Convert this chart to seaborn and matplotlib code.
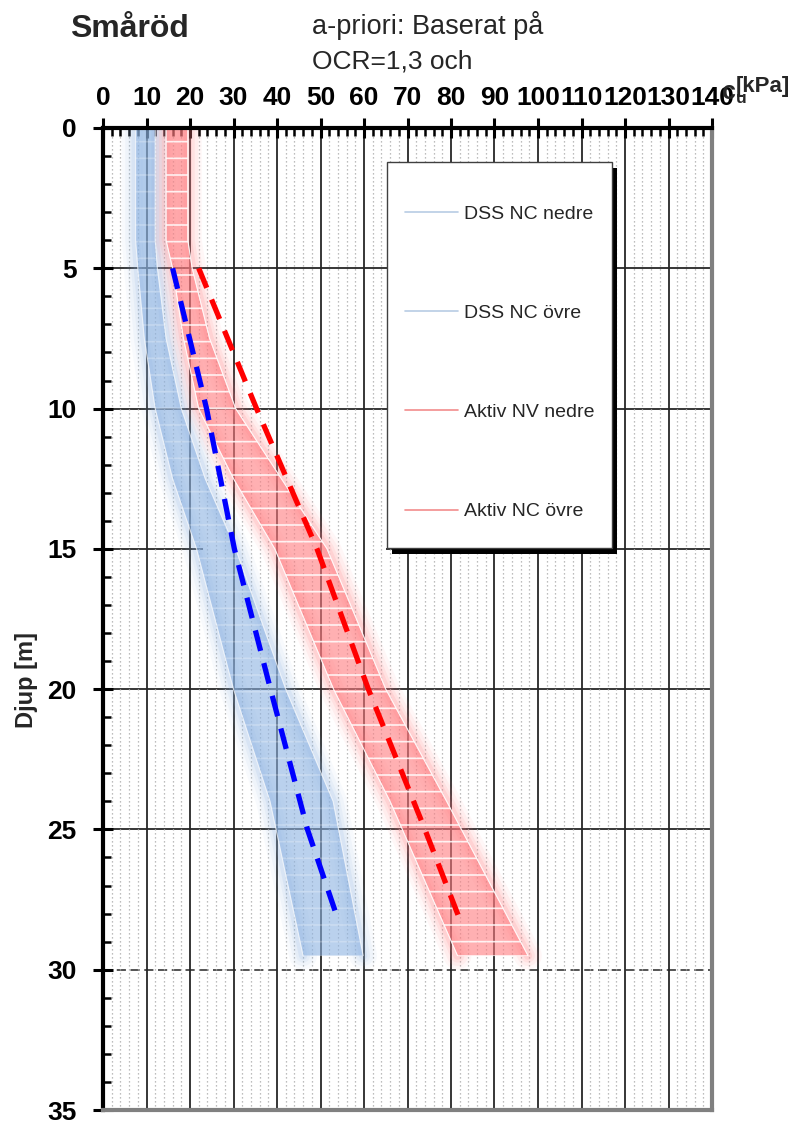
import numpy as np
import seaborn as sns
import matplotlib.pyplot as plt
from matplotlib.colors import to_rgb
from matplotlib.lines import Line2D
from matplotlib.patches import Rectangle

# bounds of the strength bands, cu [kPa] against depth [m]
depth_band = [0, 4, 5, 7.5, 10, 12.5, 15, 20, 24, 29.5]
dss_nedre = [7.5, 7.5, 8, 9.5, 12, 16, 21.5, 30, 38.4, 46]
dss_ovre = [12, 12, 12.5, 14.5, 18, 23.5, 30.5, 42, 52.9, 59.8]
aktiv_nedre = [14.5, 14.5, 16, 18.5, 22, 30, 39.5, 53, 66, 81.5]
aktiv_ovre = [19.5, 19.5, 20.5, 24.5, 30.5, 41, 51.5, 65, 79, 97.7]

# a-priori profiles (thick dashed)
depth_dss = [5, 10, 15, 20, 25, 28.2]
cu_dss = [16, 23.8, 30.2, 38.5, 47, 54]
depth_aktiv = [5, 10, 15, 20, 25, 28.4]
cu_aktiv = [22, 35.3, 49.2, 61, 74, 82.5]

legend_labels = ["DSS NC nedre", "DSS NC övre", "Aktiv NV nedre", "Aktiv NC övre"]
x_ticks = list(range(0, 141, 10))
y_ticks = list(range(0, 36, 5))

sns.set_style("white")
plt.rcParams['font.family'] = ['Liberation Sans', 'DejaVu Sans']
plt.rcParams['hatch.linewidth'] = 1.2
plt.rcParams['mathtext.fontset'] = 'custom'
plt.rcParams['mathtext.bf'] = 'Liberation Sans:bold'
plt.rcParams['mathtext.rm'] = 'Liberation Sans:bold'

blue = '#8db3e2'
red = '#ff7c80'

fig = plt.figure(figsize=(7.95, 11.22), dpi=100)
ax = fig.add_axes([103 / 795, 1 - 1110 / 1122, 609 / 795, 982 / 1122])

ax.set_xlim(0, 140)
ax.set_ylim(35, 0)

# grid
ax.set_xticks(x_ticks)
ax.set_xticks(np.arange(0, 141, 2), minor=True)
ax.set_yticks(y_ticks)
ax.set_yticks(np.arange(0, 36, 1), minor=True)
ax.grid(which='minor', axis='x', color='#a8a8a8', lw=0.9, ls=(0, (1, 2.2)), zorder=0)
ax.grid(which='major', axis='x', color='#262626', lw=1.3, zorder=0.5)
ax.grid(False, axis='y', which='both')
for yv in [5, 10, 20, 25]:
    ax.axhline(yv, color='#262626', lw=1.3, zorder=0.5)
ax.hlines(15, 0, 23, color='#262626', lw=1.3, zorder=0.5)
ax.hlines(15, 65, 140, color='#262626', lw=1.3, zorder=0.5)
ax.axhline(30, color='#262626', lw=1.1, ls=(0, (6, 3)), zorder=0.5)
ax.set_axisbelow(True)

# glowing bands
bands = [(dss_nedre, dss_ovre, blue, 0.25), (aktiv_nedre, aktiv_ovre, red, 0.85)]
for lo, hi, c, hatch_a in bands:
    for xs in (lo, hi):
        for w, a in [(20, 0.06), (15, 0.08), (10, 0.1), (6, 0.14)]:
            ax.plot(xs, depth_band, color=c, lw=w, alpha=a, solid_capstyle='round',
                    solid_joinstyle='round', zorder=1.5)
    ax.fill_betweenx(depth_band, lo, hi, facecolor=(*to_rgb(c), 0.6),
                     edgecolor=(1, 1, 1, hatch_a), hatch='-', lw=0.6, zorder=1.6)

# thin series lines
for xs, lab in zip([dss_nedre, dss_ovre, aktiv_nedre, aktiv_ovre], legend_labels):
    sns.lineplot(x=xs, y=depth_band, orient='y', color='white', lw=0.8, alpha=0.6, ax=ax, zorder=1.7)

# a-priori dashed lines
sns.lineplot(x=cu_dss, y=depth_dss, orient='y', color='#0000ff', lw=3.8, ax=ax, zorder=3)
sns.lineplot(x=cu_aktiv, y=depth_aktiv, orient='y', color='#ff0000', lw=3.8, ax=ax, zorder=3)
for ln in ax.lines[-2:]:
    ln.set_linestyle((0, (4, 2.4)))
    ln.set_dash_capstyle('butt')

# axes styling
ax.xaxis.tick_top()
ax.tick_params(axis='both', which='major', direction='inout', length=14, width=2.2,
               labelsize=19, colors='black', pad=6)
ax.tick_params(axis='y', which='major', pad=12)
ax.tick_params(axis='both', which='minor', direction='in', length=6, width=1.8, colors='black')
ax.tick_params(axis='x', which='both', top=True, bottom=False)
ax.tick_params(axis='y', which='both', left=True, right=False)
for t in ax.get_xticklabels() + ax.get_yticklabels():
    t.set_fontweight('bold')
ax.set_xlabel('')
ax.set_ylabel('Djup [m]', fontsize=17, fontweight='bold')
ax.yaxis.set_label_coords(-0.107, 1 - (680 - 128) / 982)

for s in ['top', 'left']:
    ax.spines[s].set_color('black')
    ax.spines[s].set_linewidth(3)
for s in ['right', 'bottom']:
    ax.spines[s].set_color('#808080')
    ax.spines[s].set_linewidth(3)
    ax.spines[s].set_visible(True)

# legend box with shadow
x0, y0 = (387 - 103) / 609, 1 - (548 - 128) / 982
w, h = (612 - 387) / 609, (548 - 162) / 982
ax.add_patch(Rectangle((x0 + 0.009, y0 - 0.006), w, h, transform=ax.transAxes,
                       facecolor='black', edgecolor='none', zorder=4))
ax.add_patch(Rectangle((x0, y0), w, h, transform=ax.transAxes,
                       facecolor='white', edgecolor='#404040', lw=1, zorder=4.1))
handles = [Line2D([], [], color='#b8cce4', lw=1.2),
           Line2D([], [], color='#b8cce4', lw=1.2),
           Line2D([], [], color='#f28c8c', lw=1.2),
           Line2D([], [], color='#f28c8c', lw=1.2)]
leg = ax.legend(handles, legend_labels, frameon=False, loc='upper left',
                bbox_to_anchor=((405 - 103) / 609, 1 - (205 - 128) / 982),
                borderpad=0, borderaxespad=0, fontsize=14, handlelength=2.7,
                handletextpad=0.35, labelspacing=4.2)
leg.set_zorder(5)

# titles
fig.text(70 / 795, 1 - 37 / 1122, 'Småröd', fontsize=23, fontweight='bold', va='baseline')
fig.text(312 / 795, 1 - 34 / 1122, 'a-priori: Baserat på', fontsize=19.5, va='baseline')
fig.text(312 / 795, 1 - 68 / 1122, 'OCR=1,3 och', fontsize=19, va='baseline')
fig.text(721 / 795, 1 - 100 / 1122, r'c$_\mathrm{u}$', fontsize=18, fontweight='bold', va='baseline')
fig.text(736 / 795, 1 - 92 / 1122, '[kPa]', fontsize=16, fontweight='bold', va='baseline')

fig.savefig('out.png', dpi=100)
